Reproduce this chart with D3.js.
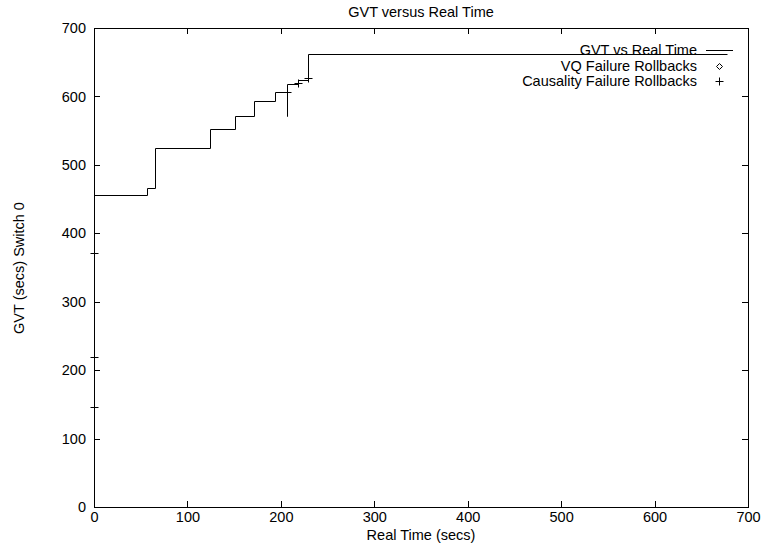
<!DOCTYPE html>
<html><head><meta charset="utf-8">
<script src="https://cdn.jsdelivr.net/npm/d3@7"></script>
<style>body{margin:0;background:#fff}svg text{font-family:"Liberation Sans",Arial,sans-serif;font-size:14.5px;fill:#000}</style>
</head><body>
<svg id="c" width="765" height="549"></svg>
<script>
const title = "GVT versus Real Time";
const xLabel = "Real Time (secs)";
const yLabel = "GVT (secs) Switch 0";
const xTicks = [0,100,200,300,400,500,600,700];
const yTicks = [0,100,200,300,400,500,600,700];
// GVT vs Real Time step line (real time secs, GVT secs)
const gvtTime = [0, 57, 57, 65, 65, 124, 124, 151, 151, 171, 171, 194, 194, 206.6, 206.6, 206.6, 218, 218, 229, 229, 678];
const gvtValue = [456, 456, 466, 466, 525, 525, 552, 552, 571, 571, 593, 593, 606, 606, 571, 618, 618, 624, 624, 662, 662];
// Causality failure rollbacks
const cfTime = [0, 0, 0, 206.6, 218.5, 229.5];
const cfValue = [371, 219, 146, 606, 619, 627];
// VQ failure rollbacks (none visible)
const vqTime = [];
const vqValue = [];
const legendLabels = ["GVT vs Real Time", "VQ Failure Rollbacks", "Causality Failure Rollbacks"];

const FS = 14.5;
const svg = d3.select("#c");
const L = 94, R = 748, T = 28, B = 507;
const x = d3.scaleLinear().domain([0,700]).range([L,R]);
const y = d3.scaleLinear().domain([0,700]).range([B,T]);

svg.append("rect").attr("x",L+0.5).attr("y",T+0.5).attr("width",R-L).attr("height",B-T)
  .attr("fill","none").attr("stroke","#000").attr("stroke-width",1);

const tl = 6;
const xa = d3.axisBottom(x).tickValues(xTicks).tickSize(0).tickPadding(5);
svg.append("g").attr("transform",`translate(0,${B})`).call(xa)
  .call(g=>{g.select(".domain").remove();g.selectAll("text").attr("font-size",FS).attr("font-family","Liberation Sans, Arial, sans-serif");});
const ya = d3.axisLeft(y).tickValues(yTicks).tickSize(0).tickPadding(8);
svg.append("g").attr("transform",`translate(${L},0)`).call(ya)
  .call(g=>{g.select(".domain").remove();g.selectAll("text").attr("font-size",FS).attr("font-family","Liberation Sans, Arial, sans-serif");});

// inward tick marks on all four sides
const tg = svg.append("g").attr("stroke","#000").attr("stroke-width",1);
xTicks.forEach(v=>{
  tg.append("line").attr("x1",Math.round(x(v))+0.5).attr("x2",Math.round(x(v))+0.5).attr("y1",B).attr("y2",B-tl);
  tg.append("line").attr("x1",Math.round(x(v))+0.5).attr("x2",Math.round(x(v))+0.5).attr("y1",T).attr("y2",T+tl);
});
yTicks.forEach(v=>{
  tg.append("line").attr("x1",L).attr("x2",L+tl).attr("y1",Math.round(y(v))+0.5).attr("y2",Math.round(y(v))+0.5);
  tg.append("line").attr("x1",R).attr("x2",R-tl).attr("y1",Math.round(y(v))+0.5).attr("y2",Math.round(y(v))+0.5);
});

// GVT line
const pts = gvtTime.map((t,i)=>[t,gvtValue[i]]);
svg.append("path").datum(pts)
  .attr("d", d3.line().x(d=>Math.round(x(d[0]))+0.5).y(d=>Math.round(y(d[1]))+0.5))
  .attr("fill","none").attr("stroke","#000").attr("stroke-width",1);

// Causality markers
const ps = 4;
cfTime.forEach((t,i)=>{
  const cx = Math.round(x(t))+0.5, cy = Math.round(y(cfValue[i]))+0.5;
  svg.append("path").attr("d",`M${cx-ps},${cy}H${cx+ps}M${cx},${cy-ps}V${cy+ps}`)
    .attr("stroke","#000").attr("stroke-width",1).attr("fill","none");
});
vqTime.forEach((t,i)=>{
  const cx = x(t), cy = y(vqValue[i]);
  svg.append("path").attr("d",`M${cx-3},${cy}L${cx},${cy-3}L${cx+3},${cy}L${cx},${cy+3}Z`)
    .attr("stroke","#000").attr("fill","none");
});

// Legend
const lx = 697, ly = [50, 66, 81];
legendLabels.forEach((s,i)=>{
  svg.append("text").attr("x",lx).attr("y",ly[i]+5).attr("text-anchor","end").text(s);
});
svg.append("line").attr("x1",706).attr("x2",733).attr("y1",ly[0]+0.5).attr("y2",ly[0]+0.5).attr("stroke","#000");
{
  const cx = 719.5, cy = ly[1]+0.5;
  svg.append("path").attr("d",`M${cx-3},${cy}L${cx},${cy-3}L${cx+3},${cy}L${cx},${cy+3}Z`).attr("stroke","#000").attr("fill","none");
  const px = 719.5, py = ly[2]+0.5;
  svg.append("path").attr("d",`M${px-ps},${py}H${px+ps}M${px},${py-ps}V${py+ps}`).attr("stroke","#000").attr("fill","none");
}

// Titles
svg.append("text").attr("x",421).attr("y",17).attr("text-anchor","middle").text(title);
svg.append("text").attr("x",421).attr("y",540).attr("text-anchor","middle").text(xLabel);
svg.append("text").attr("transform","translate(24,268) rotate(-90)").attr("text-anchor","middle").text(yLabel);
</script>
</body></html>
